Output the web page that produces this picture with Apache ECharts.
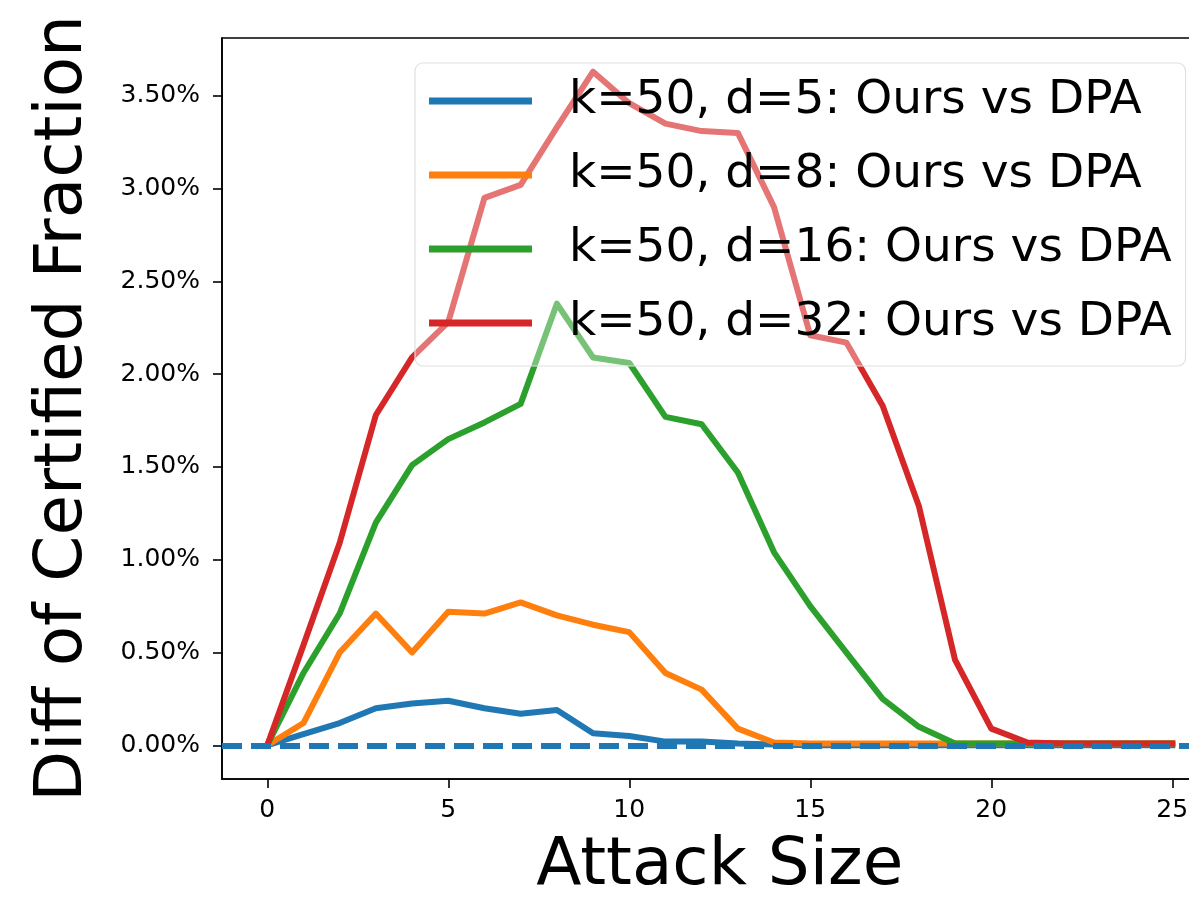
<!DOCTYPE html>
<html>
<head>
<meta charset="utf-8">
<script src="https://cdn.jsdelivr.net/npm/echarts@6/dist/echarts.min.js"></script>
<style>
html,body{margin:0;padding:0;background:#fff;overflow:hidden;}
#c{width:1189px;height:902px;}
</style>
</head>
<body>
<div id="c"></div>
<script>
// ---- data ----
const attackSizes = [0,1,2,3,4,5,6,7,8,9,10,11,12,13,14,15,16,17,18,19,20,21,22,23,24,25];
const diffD5  = [0,0.06,0.12,0.20,0.225,0.24,0.20,0.17,0.19,0.065,0.05,0.02,0.02,0.01,0.005,0,0,0,0,0,0,0,0,0,0,0];
const diffD8  = [0,0.12,0.50,0.71,0.50,0.72,0.71,0.77,0.70,0.65,0.61,0.39,0.30,0.09,0.015,0.01,0.01,0.01,0.01,0.01,0.01,0.01,0.01,0.01,0.01,0.01];
const diffD16 = [0,0.39,0.71,1.20,1.51,1.65,1.74,1.84,2.38,2.09,2.06,1.77,1.73,1.47,1.04,0.75,0.50,0.25,0.10,0.01,0.01,0.01,0.01,0.01,0.01,0.01];
const diffD32 = [0,0.54,1.09,1.78,2.09,2.28,2.95,3.02,3.33,3.63,3.46,3.35,3.31,3.30,2.90,2.21,2.17,1.83,1.29,0.46,0.09,0.015,0.01,0.01,0.01,0.01];
const seriesNames = ['k=50, d=5: Ours vs DPA','k=50, d=8: Ours vs DPA','k=50, d=16: Ours vs DPA','k=50, d=32: Ours vs DPA'];
const baselineValue = 0;
const xTickValues = [0,5,10,15,20,25];
const yTickValues = [0,0.5,1,1.5,2,2.5,3,3.5];
const xAxisTitle = 'Attack Size';
const yAxisTitle = 'Diff of Certified Fraction';

// ---- chart ----
const allSeries = [diffD5, diffD8, diffD16, diffD32];
const colors = ['#1f77b4','#ff7f0e','#2ca02c','#d62728'];
const xMinData = Math.min(...attackSizes), xMaxData = Math.max(...attackSizes);
const xPad = (xMaxData - xMinData) * 0.05;
const allVals = allSeries.flat();
const yMinData = Math.min(...allVals, baselineValue), yMaxData = Math.max(...allVals);
const yPad = (yMaxData - yMinData) * 0.05;
const FONT = 'DejaVu Sans';

const series = allSeries.map((vals, i) => ({
  name: seriesNames[i],
  type: 'line',
  data: attackSizes.map((x, j) => [x, vals[j]]),
  showSymbol: false,
  symbol: 'none',
  z: 2,
  lineStyle: { color: colors[i], width: 6, join: 'round', cap: 'square' },
  itemStyle: { color: colors[i] },
  animation: false
}));
series.push({
  name: 'zero',
  type: 'line',
  data: [],
  z: 3,
  animation: false,
  markLine: {
    silent: true,
    symbol: ['none','none'],
    label: { show: false },
    animation: false,
    lineStyle: { color: '#1f77b4', width: 6, type: [20, 9], cap: 'butt' },
    data: [{ yAxis: baselineValue }]
  }
});

const chart = echarts.init(document.getElementById('c'), null, { renderer: 'canvas' });
chart.setOption({
  animation: false,
  backgroundColor: '#fff',
  textStyle: { fontFamily: FONT },
  grid: {
    left: 222, top: 38, bottom: 123, right: -28.5,
    outerBoundsMode: 'none',
    containLabel: false,
    show: true, borderColor: '#000', borderWidth: 1.6, backgroundColor: 'transparent'
  },
  legend: {
    data: seriesNames,
    orient: 'vertical',
    left: 415, top: 63,
    z: 10,
    icon: 'rect',
    itemWidth: 103, itemHeight: 7,
    itemGap: 22,
    padding: [12, 14, 17, 14],
    backgroundColor: 'rgba(255,255,255,0.36)',
    borderColor: '#e0e0e0', borderWidth: 1.2, borderRadius: 8,
    selectedMode: false,
    textStyle: { fontFamily: FONT, fontSize: 47, color: '#000', lineHeight: 52, padding: [0,0,0,32] }
  },
  xAxis: {
    type: 'value',
    min: xMinData - xPad, max: xMaxData + xPad,
    name: xAxisTitle, nameLocation: 'middle', nameGap: 55,
    nameTextStyle: { fontFamily: FONT, fontSize: 66, color: '#000', lineHeight: 66 },
    axisLine: { show: true, onZero: false, lineStyle: { color: '#000', width: 1.6 } },
    axisTick: { show: true, customValues: xTickValues, length: 9, lineStyle: { color: '#000', width: 1.6 } },
    axisLabel: { customValues: xTickValues, fontFamily: FONT, fontSize: 25, color: '#000', margin: 19,
                 formatter: v => String(v) },
    splitLine: { show: false }
  },
  yAxis: {
    type: 'value',
    min: yMinData - yPad, max: yMaxData + yPad,
    name: yAxisTitle, nameLocation: 'middle', nameGap: 125,
    nameTextStyle: { fontFamily: FONT, fontSize: 66, color: '#000', lineHeight: 66 },
    axisLine: { show: true, onZero: false, lineStyle: { color: '#000', width: 1.6 } },
    axisTick: { show: true, customValues: yTickValues, length: 9, lineStyle: { color: '#000', width: 1.6 } },
    axisLabel: { customValues: yTickValues, fontFamily: FONT, fontSize: 25, color: '#000', margin: 22,
                 formatter: v => v.toFixed(2) + '%' },
    splitLine: { show: false }
  },
  series: series
});
</script>
</body>
</html>
